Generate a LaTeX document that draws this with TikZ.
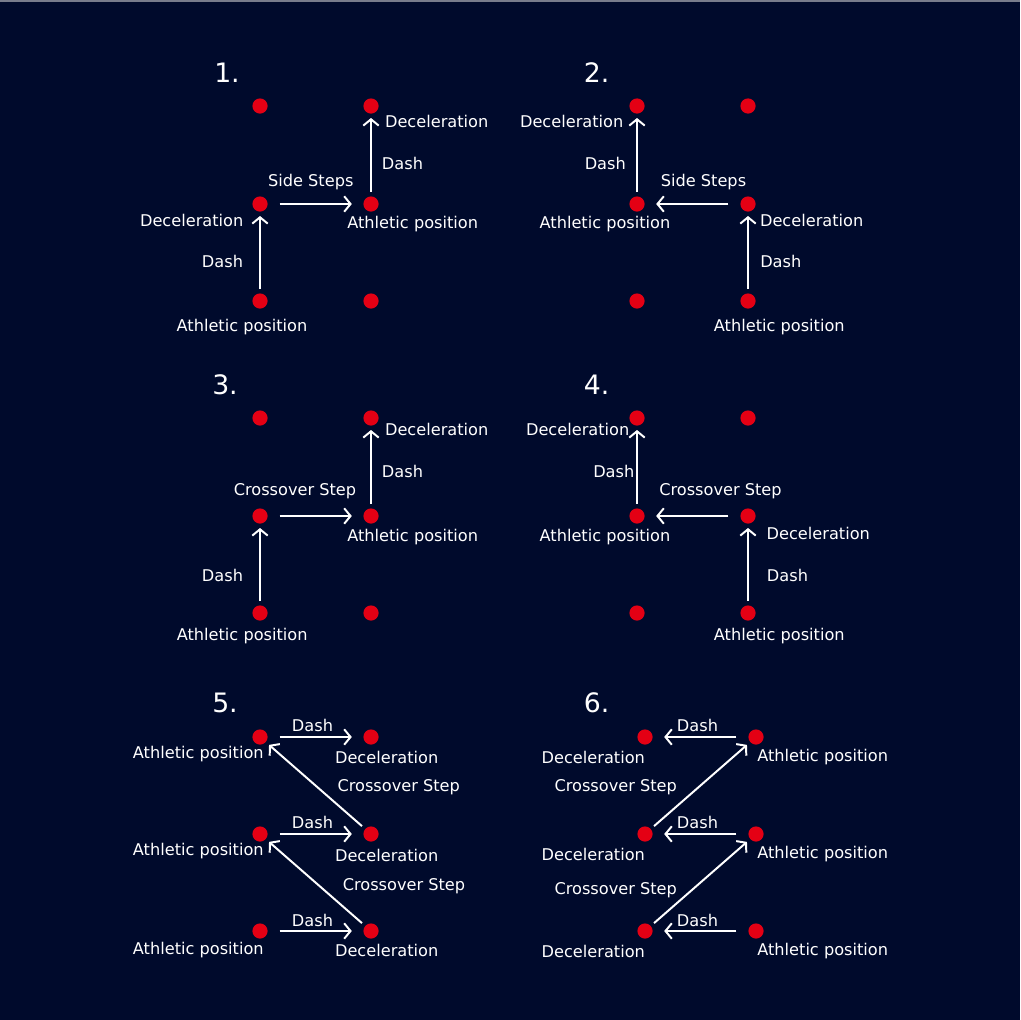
\documentclass[tikz,border=0pt]{standalone}
\usepackage{fontspec}
\setmainfont{DejaVu Sans}
\usepackage{tikz}
\usetikzlibrary{arrows.meta, positioning}
\definecolor{navy}{RGB}{0,10,44}
\definecolor{dotred}{RGB}{228,0,20}
\definecolor{edgegray}{RGB}{120,124,140}

\begin{document}
\begin{tikzpicture}[
    x=0.025cm, y=-0.025cm,
    spot/.style={circle, fill=dotred, inner sep=0pt, minimum size=0.38cm, outer sep=0.11cm},
    lbl/.style={text=white, font=\fontsize{11.5}{13}\selectfont, inner sep=0pt},
    num/.style={text=white, font=\fontsize{19}{22}\selectfont, inner sep=0pt},
    arrow/.style={-{Straight Barb[length=4.5pt, width=11pt]}, draw=white, line width=1.4pt},
    sidearrow/.style={arrow, shorten <=0.19cm, shorten >=0.18cm}
]
\fill[navy] (0,0) rectangle (1020,1020);
\fill[edgegray] (0,0) rectangle (1020,1.5);

% 1. side steps to the right
\node[num] (t1) at (227,73) {1.};
\node[spot] (p1tl) at (260,106) {};
\node[spot] (p1tr) at (371,106) {};
\node[spot] (p1ml) at (260,204) {};
\node[spot] (p1mr) at (371,204) {};
\node[spot] (p1bl) at (260,301) {};
\node[spot] (p1br) at (371,301) {};
\node[lbl] (l1a) at (436.7,121.7) {Deceleration};
\node[lbl] (l1b) at (402.5,163) {Dash};
\node[lbl] (l1c) at (310.8,182.5) {Side Steps};
\node[lbl] (l1d) at (191.7,220) {Deceleration};
\node[lbl] (l1e) at (412.7,224) {Athletic position};
\node[lbl] (l1f) at (222.5,261) {Dash};
\node[lbl] (l1g) at (242,327) {Athletic position};
\draw[arrow] (p1bl) -- (p1ml);
\draw[sidearrow] (p1ml) -- (p1mr);
\draw[arrow] (p1mr) -- (p1tr);

% 2. side steps to the left
\node[num] (t2) at (596.7,73) {2.};
\node[spot] (p2tl) at (637,106) {};
\node[spot] (p2tr) at (748,106) {};
\node[spot] (p2ml) at (637,204) {};
\node[spot] (p2mr) at (748,204) {};
\node[spot] (p2bl) at (637,301) {};
\node[spot] (p2br) at (748,301) {};
\node[lbl] (l2a) at (571.7,121.7) {Deceleration};
\node[lbl] (l2b) at (605.3,163) {Dash};
\node[lbl] (l2c) at (703.5,182.5) {Side Steps};
\node[lbl] (l2d) at (605,224) {Athletic position};
\node[lbl] (l2e) at (811.7,220) {Deceleration};
\node[lbl] (l2f) at (780.8,261) {Dash};
\node[lbl] (l2g) at (779.3,327) {Athletic position};
\draw[arrow] (p2br) -- (p2mr);
\draw[sidearrow] (p2mr) -- (p2ml);
\draw[arrow] (p2ml) -- (p2tl);

% 3. crossover to the right
\node[num] (t3) at (225,385) {3.};
\node[spot] (p3tl) at (260,418) {};
\node[spot] (p3tr) at (371,418) {};
\node[spot] (p3ml) at (260,516) {};
\node[spot] (p3mr) at (371,516) {};
\node[spot] (p3bl) at (260,613) {};
\node[spot] (p3br) at (371,613) {};
\node[lbl] (l3a) at (436.7,429) {Deceleration};
\node[lbl] (l3b) at (402.5,471.7) {Dash};
\node[lbl] (l3c) at (295,490.8) {Crossover Step};
\node[lbl] (l3d) at (412.7,537.5) {Athletic position};
\node[lbl] (l3e) at (222.5,575) {Dash};
\node[lbl] (l3f) at (242.2,635.8) {Athletic position};
\draw[arrow] (p3bl) -- (p3ml);
\draw[sidearrow] (p3ml) -- (p3mr);
\draw[arrow] (p3mr) -- (p3tr);

% 4. crossover to the left
\node[num] (t4) at (596.7,385) {4.};
\node[spot] (p4tl) at (637,418) {};
\node[spot] (p4tr) at (748,418) {};
\node[spot] (p4ml) at (637,516) {};
\node[spot] (p4mr) at (748,516) {};
\node[spot] (p4bl) at (637,613) {};
\node[spot] (p4br) at (748,613) {};
\node[lbl] (l4a) at (577.7,429) {Deceleration};
\node[lbl] (l4b) at (613.8,471.7) {Dash};
\node[lbl] (l4c) at (720.5,490.8) {Crossover Step};
\node[lbl] (l4d) at (605,537.5) {Athletic position};
\node[lbl] (l4e) at (818.3,533.5) {Deceleration};
\node[lbl] (l4f) at (787.5,575) {Dash};
\node[lbl] (l4g) at (779.3,635.8) {Athletic position};
\draw[arrow] (p4br) -- (p4mr);
\draw[sidearrow] (p4mr) -- (p4ml);
\draw[arrow] (p4ml) -- (p4tl);

% 5. dash right, crossover back
\node[num] (t5) at (225,703) {5.};
\node[spot] (p5tl) at (260,737) {};
\node[spot] (p5tr) at (371,737) {};
\node[spot] (p5ml) at (260,834) {};
\node[spot] (p5mr) at (371,834) {};
\node[spot] (p5bl) at (260,931) {};
\node[spot] (p5br) at (371,931) {};
\node[lbl] (l5a) at (312.5,725) {Dash};
\node[lbl] (l5b) at (198.3,754) {Athletic position};
\node[lbl] (l5c) at (386.7,757) {Deceleration};
\node[lbl] (l5d) at (398.7,787) {Crossover Step};
\node[lbl] (l5e) at (312.5,822) {Dash};
\node[lbl] (l5f) at (198.3,851) {Athletic position};
\node[lbl] (l5g) at (386.7,855) {Deceleration};
\node[lbl] (l5h) at (404,885.8) {Crossover Step};
\node[lbl] (l5i) at (312.5,920) {Dash};
\node[lbl] (l5j) at (198.3,950) {Athletic position};
\node[lbl] (l5k) at (386.7,950) {Deceleration};
\draw[sidearrow] (p5tl) -- (p5tr);
\draw[sidearrow] (p5ml) -- (p5mr);
\draw[sidearrow] (p5bl) -- (p5br);
\draw[arrow] (p5mr) -- (p5tl);
\draw[arrow] (p5br) -- (p5ml);

% 6. dash left, crossover back
\node[num] (t6) at (596.7,703) {6.};
\node[spot] (p6tl) at (645,737) {};
\node[spot] (p6tr) at (756,737) {};
\node[spot] (p6ml) at (645,834) {};
\node[spot] (p6mr) at (756,834) {};
\node[spot] (p6bl) at (645,931) {};
\node[spot] (p6br) at (756,931) {};
\node[lbl] (l6a) at (697.5,725) {Dash};
\node[lbl] (l6b) at (593.3,757) {Deceleration};
\node[lbl] (l6c) at (822.7,757) {Athletic position};
\node[lbl] (l6d) at (615.7,787) {Crossover Step};
\node[lbl] (l6e) at (697.5,822) {Dash};
\node[lbl] (l6f) at (593.3,854) {Deceleration};
\node[lbl] (l6g) at (822.7,854) {Athletic position};
\node[lbl] (l6h) at (615.7,890) {Crossover Step};
\node[lbl] (l6i) at (697.5,920) {Dash};
\node[lbl] (l6j) at (593.3,951) {Deceleration};
\node[lbl] (l6k) at (822.7,951) {Athletic position};
\draw[sidearrow] (p6tr) -- (p6tl);
\draw[sidearrow] (p6mr) -- (p6ml);
\draw[sidearrow] (p6br) -- (p6bl);
\draw[arrow] (p6ml) -- (p6tr);
\draw[arrow] (p6bl) -- (p6mr);
\end{tikzpicture}
\end{document}
